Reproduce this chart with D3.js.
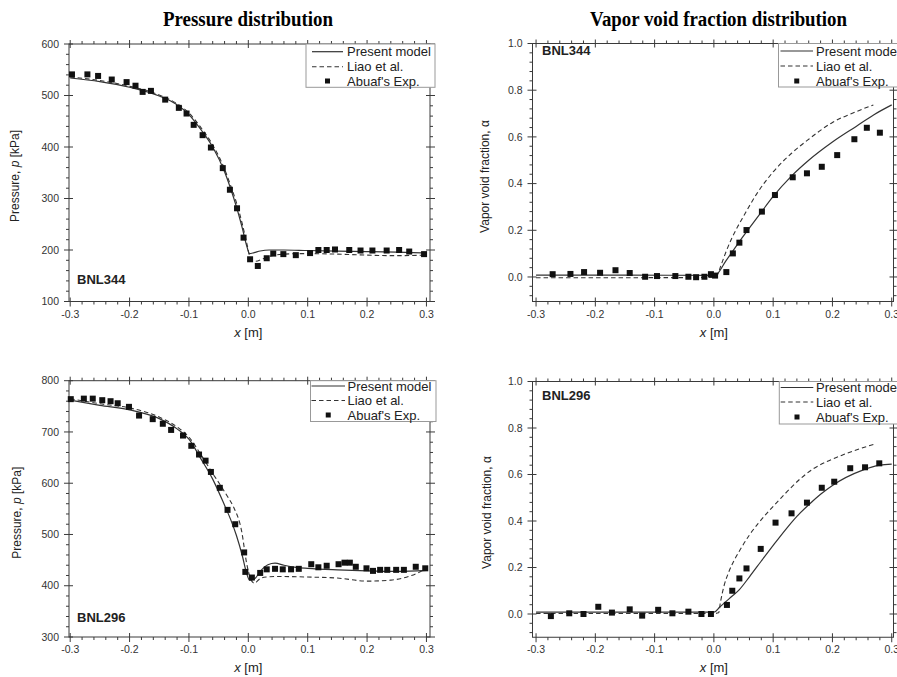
<!DOCTYPE html>
<html><head><meta charset="utf-8">
<script src="https://cdn.jsdelivr.net/npm/d3@7"></script>
<style>body{margin:0;background:#fff;} svg{display:block;}</style>
</head><body>
<svg id="c" width="897" height="677"></svg>
<script>
// ---------- tick labels ----------
const xTickVals = [-0.3,-0.2,-0.1,0,0.1,0.2,0.3];
const xTickLabels = ["-0.3","-0.2","-0.1","0.0","0.1","0.2","0.3"];
const p344TickVals = [100,200,300,400,500,600];
const p296TickVals = [300,400,500,600,700,800];
const voidTickVals = [0,0.2,0.4,0.6,0.8,1.0];
const voidTickLabels = ["0.0","0.2","0.4","0.6","0.8","1.0"];
const legendLabels = ["Present model","Liao et al.","Abuaf's Exp."];
const panelTitles = ["Pressure distribution","Vapor void fraction distribution"];
const caseNames = ["BNL344","BNL296"];

// ---------- BNL344 pressure [kPa] ----------
const p344Model = [[-0.30,534],[-0.25,527],[-0.20,516],[-0.15,499],[-0.12,482],[-0.10,463],[-0.08,434],[-0.06,400],[-0.04,352],[-0.03,320],[-0.02,284],[-0.01,242],[-0.002,205],[0.002,193],[0.01,195],[0.02,198],[0.035,200],[0.06,200],[0.1,199],[0.15,198],[0.2,197],[0.25,196],[0.3,194]];
const p344Liao = [[-0.30,536],[-0.25,529],[-0.20,518],[-0.15,501],[-0.12,484],[-0.10,466],[-0.08,438],[-0.06,404],[-0.04,357],[-0.03,326],[-0.02,292],[-0.01,250],[-0.002,210],[0.004,182],[0.012,178],[0.025,183],[0.04,189],[0.06,192],[0.1,193],[0.15,192],[0.2,190],[0.25,189],[0.3,190]];
const p344Exp = [[-0.297,541],[-0.271,541],[-0.253,538],[-0.230,531],[-0.205,526],[-0.190,519],[-0.178,507],[-0.164,509],[-0.140,492],[-0.117,476],[-0.104,465],[-0.092,443],[-0.077,423],[-0.063,399],[-0.043,359],[-0.031,317],[-0.019,281],[-0.008,224],[0.003,182],[0.016,169],[0.031,184],[0.042,193],[0.059,192],[0.080,190],[0.104,194],[0.118,200],[0.132,200],[0.146,201],[0.170,200],[0.189,199],[0.209,199],[0.233,199],[0.254,200],[0.271,197],[0.296,192]];

// ---------- BNL344 void fraction ----------
const v344Model = [[-0.3,0.008],[-0.15,0.008],[0.0,0.007],[0.003,0.008],[0.02,0.068],[0.044,0.155],[0.06,0.21],[0.08,0.278],[0.1,0.345],[0.13,0.43],[0.16,0.5],[0.2,0.578],[0.24,0.645],[0.27,0.695],[0.3,0.737]];
const v344Liao = [[-0.3,-0.003],[-0.15,-0.003],[0.0,-0.002],[0.005,0.005],[0.012,0.05],[0.02,0.105],[0.03,0.165],[0.04,0.215],[0.05,0.26],[0.072,0.355],[0.1,0.45],[0.131,0.53],[0.16,0.59],[0.2,0.662],[0.24,0.708],[0.269,0.737]];
const v344Exp = [[-0.272,0.012],[-0.242,0.013],[-0.219,0.021],[-0.192,0.018],[-0.166,0.029],[-0.142,0.017],[-0.116,0.001],[-0.096,0.004],[-0.065,0.004],[-0.043,0.001],[-0.030,-0.001],[-0.016,0.001],[-0.005,0.012],[0.002,0.006],[0.021,0.021],[0.032,0.101],[0.043,0.147],[0.055,0.201],[0.081,0.280],[0.103,0.351],[0.133,0.427],[0.157,0.444],[0.182,0.472],[0.208,0.522],[0.237,0.590],[0.258,0.639],[0.280,0.618]];

// ---------- BNL296 pressure [kPa] ----------
const p296Model = [[-0.30,762],[-0.25,752],[-0.20,743],[-0.15,726],[-0.12,706],[-0.10,686],[-0.08,648],[-0.06,608],[-0.04,557],[-0.03,530],[-0.02,498],[-0.01,458],[-0.003,425],[0.002,411],[0.01,413],[0.02,428],[0.033,441],[0.045,444],[0.06,440],[0.08,436],[0.1,434],[0.15,431],[0.2,429],[0.25,428],[0.3,430]];
const p296Liao = [[-0.30,765],[-0.25,755],[-0.20,747],[-0.15,729],[-0.12,710],[-0.10,690],[-0.08,656],[-0.06,619],[-0.048,598],[-0.035,574],[-0.025,554],[-0.011,505],[-0.003,445],[0.004,413],[0.01,405],[0.02,414],[0.03,417],[0.05,418],[0.1,417],[0.15,415],[0.2,409],[0.24,411],[0.27,418],[0.3,433]];
const p296Exp = [[-0.299,764],[-0.277,765],[-0.262,765],[-0.246,762],[-0.232,760],[-0.220,756],[-0.201,749],[-0.184,732],[-0.161,725],[-0.144,716],[-0.130,704],[-0.110,693],[-0.096,673],[-0.083,656],[-0.072,644],[-0.063,622],[-0.048,591],[-0.035,548],[-0.022,520],[-0.007,465],[-0.005,427],[0.006,416],[0.020,425],[0.031,432],[0.045,433],[0.058,432],[0.072,432],[0.085,433],[0.106,442],[0.118,436],[0.132,439],[0.152,442],[0.162,445],[0.171,445],[0.181,437],[0.199,434],[0.210,429],[0.222,431],[0.234,431],[0.249,431],[0.262,431],[0.282,437],[0.298,434]];

// ---------- BNL296 void fraction ----------
const v296Model = [[-0.3,0.008],[-0.15,0.008],[0.0,0.008],[0.01,0.03],[0.02,0.053],[0.03,0.075],[0.043,0.105],[0.06,0.16],[0.08,0.228],[0.1,0.295],[0.12,0.36],[0.14,0.42],[0.16,0.47],[0.18,0.515],[0.2,0.553],[0.25,0.618],[0.28,0.64],[0.3,0.645]];
const v296Liao = [[-0.3,0.002],[-0.15,0.002],[0.0,0.002],[0.008,0.005],[0.011,0.05],[0.017,0.12],[0.025,0.18],[0.035,0.235],[0.044,0.275],[0.06,0.34],[0.075,0.39],[0.09,0.435],[0.11,0.49],[0.123,0.525],[0.145,0.58],[0.168,0.625],[0.19,0.655],[0.218,0.685],[0.245,0.71],[0.272,0.731]];
const v296Exp = [[-0.275,-0.009],[-0.244,0.003],[-0.220,0.0],[-0.195,0.031],[-0.172,0.006],[-0.142,0.020],[-0.121,-0.007],[-0.094,0.018],[-0.070,0.003],[-0.043,0.010],[-0.021,0.0],[-0.005,0.0],[0.022,0.039],[0.031,0.100],[0.043,0.153],[0.055,0.196],[0.079,0.280],[0.104,0.393],[0.131,0.433],[0.157,0.479],[0.182,0.543],[0.203,0.569],[0.230,0.627],[0.255,0.631],[0.279,0.648]];

const svg = d3.select("#c");
const FONT = "Liberation Sans, Arial, sans-serif";
const AX = "#3a3a3a";

// titles
svg.append("text").attr("x",248).attr("y",26).attr("text-anchor","middle")
  .attr("font-family","Liberation Serif, Times New Roman, serif").attr("font-weight","bold")
  .attr("font-size",20).attr("textLength",170).attr("lengthAdjust","spacingAndGlyphs")
  .text(panelTitles[0]);
svg.append("text").attr("x",718.5).attr("y",26).attr("text-anchor","middle")
  .attr("font-family","Liberation Serif, Times New Roman, serif").attr("font-weight","bold")
  .attr("font-size",20).attr("textLength",257).attr("lengthAdjust","spacingAndGlyphs")
  .text(panelTitles[1]);

function panel(cfg){
  const g = svg.append("g");
  const xs = d3.scaleLinear().domain(cfg.xDom).range([cfg.L,cfg.R]);
  const ys = d3.scaleLinear().domain(cfg.yDom).range([cfg.B,cfg.T]);
  // frame
  g.append("rect").attr("x",cfg.L).attr("y",cfg.T).attr("width",cfg.R-cfg.L).attr("height",cfg.B-cfg.T)
    .attr("fill","none").attr("stroke",AX).attr("stroke-width",1);
  const tk = g.append("g").attr("stroke",AX).attr("stroke-width",1);
  // x ticks
  const xStep = 0.02;
  d3.range(Math.ceil(cfg.xDom[0]/xStep-1e-6), Math.floor(cfg.xDom[1]/xStep+1e-6)+1).forEach(i=>{
    const v=i*xStep, px=xs(v), major=(i%5===0);
    if(major){
      tk.append("line").attr("x1",px).attr("x2",px).attr("y1",cfg.B-4).attr("y2",cfg.B+5);
      tk.append("line").attr("x1",px).attr("x2",px).attr("y1",cfg.T-4).attr("y2",cfg.T+4);
    } else {
      tk.append("line").attr("x1",px).attr("x2",px).attr("y1",cfg.B).attr("y2",cfg.B+3);
      tk.append("line").attr("x1",px).attr("x2",px).attr("y1",cfg.T-3).attr("y2",cfg.T);
    }
  });
  // y ticks
  const yStep = cfg.yMinor;
  d3.range(Math.ceil(cfg.yDom[0]/yStep-1e-6), Math.floor(cfg.yDom[1]/yStep+1e-6)+1).forEach(i=>{
    const v=i*yStep, py=ys(v), major=(i%5===0);
    if(major){
      tk.append("line").attr("y1",py).attr("y2",py).attr("x1",cfg.L-5).attr("x2",cfg.L+4);
      tk.append("line").attr("y1",py).attr("y2",py).attr("x1",cfg.R-4).attr("x2",cfg.R+5);
    } else {
      tk.append("line").attr("y1",py).attr("y2",py).attr("x1",cfg.L-3).attr("x2",cfg.L);
      tk.append("line").attr("y1",py).attr("y2",py).attr("x1",cfg.R).attr("x2",cfg.R+3);
    }
  });
  // tick labels
  xTickVals.forEach((v,i)=>{
    g.append("text").attr("x",xs(v)).attr("y",cfg.B+16).attr("text-anchor","middle")
      .attr("font-family",FONT).attr("font-size",10.5).attr("fill","#333").text(xTickLabels[i]);
  });
  cfg.yTicks.forEach((v,i)=>{
    g.append("text").attr("x",cfg.L-10).attr("y",ys(v)+3.7).attr("text-anchor","end")
      .attr("font-family",FONT).attr("font-size",10.5).attr("fill","#333").text(cfg.yLabels[i]);
  });
  // axis titles
  const xt = g.append("text").attr("x",xs(0)).attr("y",cfg.B+35).attr("text-anchor","middle")
    .attr("font-family",FONT).attr("font-size",13).attr("fill","#222");
  xt.append("tspan").attr("font-style","italic").text("x");
  xt.append("tspan").text(" [m]");
  const yt = g.append("text").attr("transform",`translate(${cfg.ytX},${cfg.ytY}) rotate(-90)`)
    .attr("text-anchor","middle").attr("font-family",FONT).attr("font-size",12).attr("fill","#222");
  cfg.yTitle.forEach(p=>{ const t=yt.append("tspan").text(p[0]); if(p[1]) t.attr("font-style","italic"); });
  // curves
  const line = d3.line().x(d=>xs(d[0])).y(d=>ys(d[1])).curve(d3.curveMonotoneX);
  g.append("path").datum(cfg.liao).attr("d",line).attr("fill","none").attr("stroke","#333")
    .attr("stroke-width",1.1).attr("stroke-dasharray","4.5,3");
  g.append("path").datum(cfg.model).attr("d",line).attr("fill","none").attr("stroke","#333")
    .attr("stroke-width",1.2);
  g.append("g").selectAll("rect").data(cfg.exp).join("rect")
    .attr("x",d=>xs(d[0])-3).attr("y",d=>ys(d[1])-3).attr("width",6).attr("height",6).attr("fill","#111");
  // case label
  g.append("text").attr("x",cfg.caseX).attr("y",cfg.caseY).attr("font-family",FONT)
    .attr("font-weight","bold").attr("font-size",13).attr("fill","#222").text(cfg.caseName);
  // legend
  const lg = cfg.leg;
  g.append("rect").attr("x",lg.box[0]).attr("y",lg.box[1]).attr("width",lg.box[2]-lg.box[0])
    .attr("height",lg.box[3]-lg.box[1]).attr("fill","#fff").attr("stroke","#999").attr("stroke-width",1);
  g.append("line").attr("x1",lg.s[0]).attr("x2",lg.s[1]).attr("y1",lg.rows[0]).attr("y2",lg.rows[0])
    .attr("stroke","#333").attr("stroke-width",1.2);
  g.append("line").attr("x1",lg.s[0]).attr("x2",lg.s[1]).attr("y1",lg.rows[1]).attr("y2",lg.rows[1])
    .attr("stroke","#333").attr("stroke-width",1.1).attr("stroke-dasharray","4.5,3");
  g.append("rect").attr("x",(lg.s[0]+lg.s[1])/2-2.5).attr("y",lg.rows[2]-2.5).attr("width",5).attr("height",5).attr("fill","#111");
  legendLabels.forEach((t,i)=>{
    g.append("text").attr("x",lg.tx).attr("y",lg.rows[i]+4.6).attr("font-family",FONT)
      .attr("font-size",13).attr("fill","#222").text(t);
  });
}

const pTitle = [["Pressure, "],["p",true],[" [kPa]"]];
const vTitle = [["Vapor void fraction, α"]];

panel({L:69,R:430,T:44,B:301.5,xDom:[-0.302,0.306],yDom:[100,600],yMinor:20,
  yTicks:p344TickVals,yLabels:p344TickVals.map(String),yTitle:pTitle,ytX:19,ytY:176,
  model:p344Model,liao:p344Liao,exp:p344Exp,caseName:caseNames[0],caseX:77,caseY:284,
  leg:{box:[306,44,435,87.3],rows:[51.7,66.7,81],s:[312,343],tx:347}});
panel({L:532.5,R:893.5,T:43.5,B:301.5,xDom:[-0.306,0.303],yDom:[-0.105,1.0],yMinor:0.04,
  yTicks:voidTickVals,yLabels:voidTickLabels,yTitle:vTitle,ytX:489,ytY:176.5,
  model:v344Model,liao:v344Liao,exp:v344Exp,caseName:caseNames[0],caseX:542,caseY:55,
  leg:{box:[778.5,43.5,930,87],rows:[51,66,81],s:[780.5,813],tx:816}});
panel({L:69,R:430,T:380.7,B:637,xDom:[-0.302,0.306],yDom:[300,800],yMinor:20,
  yTicks:p296TickVals,yLabels:p296TickVals.map(String),yTitle:pTitle,ytX:20.5,ytY:512.7,
  model:p296Model,liao:p296Liao,exp:p296Exp,caseName:caseNames[1],caseX:77,caseY:621.5,
  leg:{box:[310.5,380.7,436,421.5],rows:[386,400.5,415],s:[311.5,345],tx:347.5}});
panel({L:532.5,R:893.5,T:381.5,B:637.25,xDom:[-0.306,0.303],yDom:[-0.1,1.0],yMinor:0.04,
  yTicks:voidTickVals,yLabels:voidTickLabels,yTitle:vTitle,ytX:490.5,ytY:512.5,
  model:v296Model,liao:v296Liao,exp:v296Exp,caseName:caseNames[1],caseX:542,caseY:399.5,
  leg:{box:[779.3,381.5,930,424],rows:[387.5,402,417],s:[780.7,813.3],tx:816}});
</script>
</body></html>
